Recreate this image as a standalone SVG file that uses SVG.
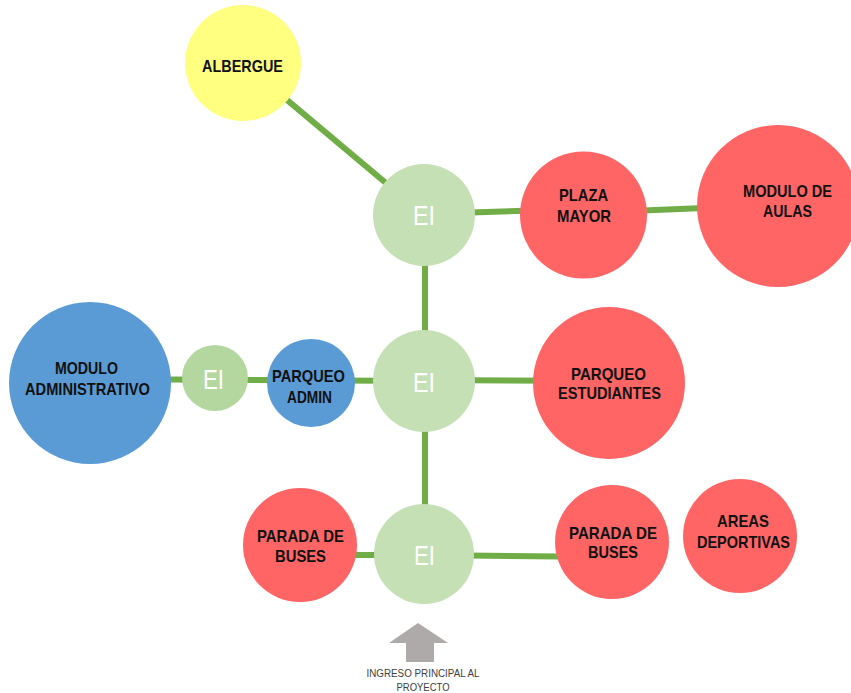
<svg xmlns="http://www.w3.org/2000/svg" width="851" height="693" viewBox="0 0 851 693">
  <style>
    .red { fill: #ff6565; }
    .blue { fill: #5b9bd5; }
    .yellow { fill: #ffff80; }
    .ei { fill: #c5e0b4; }
    .ei-s { fill: #b4d7a0; }
    .lbl { font-family: "Liberation Sans", Arial, sans-serif; font-weight: bold; font-size: 17px; fill: #111; text-anchor: middle; }
    .eit { font-family: "Liberation Sans", Arial, sans-serif; font-size: 28px; fill: #ffffff; text-anchor: middle; }
    .note { font-family: "Liberation Sans", Arial, sans-serif; font-size: 11px; fill: #404040; text-anchor: middle; }
    .link { stroke: #70ad47; stroke-width: 6; fill: none; }
  </style>

  <rect width="851" height="693" fill="#ffffff"/>

  <g id="connectors">
    <line class="link" x1="243" y1="63" x2="424" y2="215"/>
    <line class="link" x1="424" y1="214" x2="583" y2="209"/>
    <line class="link" x1="583" y1="213" x2="778" y2="205"/>
    <line class="link" x1="425" y1="214" x2="425" y2="554"/>
    <line class="link" x1="424" y1="380" x2="609" y2="381"/>
    <line class="link" x1="90" y1="379" x2="424" y2="381"/>
    <line class="link" x1="300" y1="555" x2="424" y2="555"/>
    <line class="link" x1="424" y1="555" x2="612" y2="557"/>
  </g>

  <g id="albergue">
    <circle class="yellow" cx="243" cy="63" r="58"/>
    <text class="lbl" x="242.5" y="72" textLength="81" lengthAdjust="spacingAndGlyphs">ALBERGUE</text>
  </g>

  <g id="ei-top">
    <circle class="ei" cx="424" cy="215" r="51"/>
    <text class="eit" x="424" y="225" textLength="22" lengthAdjust="spacingAndGlyphs">EI</text>
  </g>

  <g id="plaza-mayor">
    <circle class="red" cx="583.5" cy="215" r="63.5"/>
    <text class="lbl" x="583.5" y="201" textLength="49" lengthAdjust="spacingAndGlyphs">PLAZA</text>
    <text class="lbl" x="584" y="222" textLength="54" lengthAdjust="spacingAndGlyphs">MAYOR</text>
  </g>

  <g id="modulo-aulas">
    <circle class="red" cx="778" cy="206" r="81"/>
    <text class="lbl" x="787.5" y="197" textLength="89" lengthAdjust="spacingAndGlyphs">MODULO DE</text>
    <text class="lbl" x="787.5" y="217" textLength="49" lengthAdjust="spacingAndGlyphs">AULAS</text>
  </g>

  <g id="ei-mid">
    <circle class="ei" cx="424" cy="381" r="51"/>
    <text class="eit" x="424" y="392" textLength="22" lengthAdjust="spacingAndGlyphs">EI</text>
  </g>

  <g id="parqueo-estudiantes">
    <circle class="red" cx="609" cy="383" r="76"/>
    <text class="lbl" x="608.5" y="380" textLength="75" lengthAdjust="spacingAndGlyphs">PARQUEO</text>
    <text class="lbl" x="609.5" y="399" textLength="103" lengthAdjust="spacingAndGlyphs">ESTUDIANTES</text>
  </g>

  <g id="parqueo-admin">
    <circle class="blue" cx="311" cy="383" r="44"/>
    <text class="lbl" x="308.5" y="382" textLength="73" lengthAdjust="spacingAndGlyphs">PARQUEO</text>
    <text class="lbl" x="309.5" y="403" textLength="45" lengthAdjust="spacingAndGlyphs">ADMIN</text>
  </g>

  <g id="ei-small">
    <circle class="ei-s" cx="215" cy="378" r="33"/>
    <text class="eit" x="213.5" y="389" font-size="26" textLength="21" lengthAdjust="spacingAndGlyphs">EI</text>
  </g>

  <g id="modulo-administrativo">
    <circle class="blue" cx="90" cy="383" r="81"/>
    <text class="lbl" x="86.5" y="374" textLength="63" lengthAdjust="spacingAndGlyphs">MODULO</text>
    <text class="lbl" x="87.5" y="395" textLength="125" lengthAdjust="spacingAndGlyphs">ADMINISTRATIVO</text>
  </g>

  <g id="ei-bottom">
    <circle class="ei" cx="424" cy="554" r="50"/>
    <text class="eit" x="424.5" y="565" textLength="21" lengthAdjust="spacingAndGlyphs">EI</text>
  </g>

  <g id="parada-buses-left">
    <circle class="red" cx="300" cy="545" r="57"/>
    <text class="lbl" x="300.5" y="542" textLength="87" lengthAdjust="spacingAndGlyphs">PARADA DE</text>
    <text class="lbl" x="300.5" y="562" textLength="51" lengthAdjust="spacingAndGlyphs">BUSES</text>
  </g>

  <g id="parada-buses-right">
    <circle class="red" cx="612" cy="542" r="57"/>
    <text class="lbl" x="613" y="539" textLength="88" lengthAdjust="spacingAndGlyphs">PARADA DE</text>
    <text class="lbl" x="613" y="558" textLength="50" lengthAdjust="spacingAndGlyphs">BUSES</text>
  </g>

  <g id="areas-deportivas">
    <circle class="red" cx="740" cy="536" r="57"/>
    <text class="lbl" x="743" y="527" textLength="52" lengthAdjust="spacingAndGlyphs">AREAS</text>
    <text class="lbl" x="743.5" y="548" textLength="93" lengthAdjust="spacingAndGlyphs">DEPORTIVAS</text>
  </g>

  <g id="ingreso">
    <polygon points="418,623 448,643 434,643 434,662 406,662 406,643 389,643" fill="#aeaaaa"/>
    <text class="note" x="423" y="677" textLength="113" lengthAdjust="spacingAndGlyphs">INGRESO PRINCIPAL AL</text>
    <text class="note" x="423" y="691" textLength="53" lengthAdjust="spacingAndGlyphs">PROYECTO</text>
  </g>
</svg>
